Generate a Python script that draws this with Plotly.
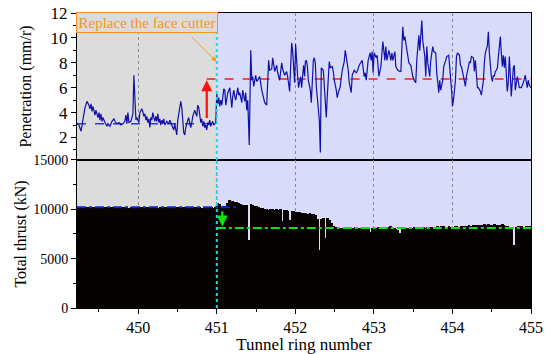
import plotly.graph_objects as go
from plotly.subplots import make_subplots

# ---------------- data ----------------
pen_ring = [
 449.220,449.245,449.271,449.296,449.322,449.347,449.372,449.385,449.398,449.411,449.423,449.449,449.461,449.487,
 449.500,449.512,449.525,449.538,449.550,449.576,449.601,449.614,449.639,449.665,449.690,449.703,449.728,449.754,
 449.779,449.804,449.830,449.843,449.855,449.868,449.881,449.906,449.932,449.944,449.957,449.970,449.982,
 450.008,450.020,450.046,450.058,450.071,450.084,450.097,450.109,450.122,450.135,450.147,450.160,450.173,450.185,
 450.198,450.211,450.224,450.236,450.249,450.262,450.274,450.287,450.300,450.312,450.325,450.338,450.363,450.389,
 450.401,450.427,450.452,450.465,450.478,450.490,450.503,450.516,450.541,450.554,450.567,450.579,450.592,450.605,
 450.630,450.643,450.656,450.668,450.681,450.694,450.719,450.732,450.745,450.757,450.770,450.783,450.796,450.808,
 450.821,450.834,450.846,450.859,450.872,450.885,450.897,450.910,450.923,450.935,450.948,450.961,450.986,
 451.000,451.013,451.025,451.038,451.051,451.064,451.089,451.102,451.114,451.127,451.140,451.165,451.178,451.191,
 451.203,451.216,451.229,451.241,451.267,451.279,451.292,451.318,451.330,451.356,451.368,451.381,451.394,451.413,
 451.432,451.445,451.457,451.470,451.495,451.508,451.521,451.546,451.572,451.584,451.610,451.635,451.648,451.660,
 451.673,451.699,451.711,451.737,451.762,451.775,451.800,451.826,451.838,451.864,451.889,451.902,451.927,451.953,
 451.965,451.991,452.003,452.016,452.029,452.041,452.067,452.080,452.105,452.118,
 452.127,452.140,452.152,452.165,452.191,452.203,452.229,452.241,452.254,452.267,452.292,452.305,452.318,452.330,
 452.356,452.368,452.394,452.406,452.419,452.432,452.445,452.470,452.483,452.495,452.521,452.533,452.546,452.572,
 452.584,452.597,452.622,452.635,452.648,452.673,452.686,452.711,452.724,452.749,452.775,452.787,452.813,452.838,
 452.851,452.876,452.889,452.902,452.914,452.927,452.952,452.965,452.978,452.990,453.003,453.029,453.041,453.054,
 453.064,453.089,453.114,453.140,453.152,453.165,453.178,453.191,453.216,453.229,453.241,453.267,453.279,453.305,
 453.330,453.343,453.368,453.381,453.394,453.419,453.432,453.445,453.470,453.483,453.495,453.521,453.533,453.546,
 453.572,453.584,453.597,453.610,453.622,453.648,453.660,453.673,453.686,453.711,453.724,453.749,453.762,453.787,
 453.800,453.826,453.838,453.851,453.876,453.889,453.914,453.927,453.953,453.978,453.991,
 454.000,454.013,454.038,454.051,454.064,454.089,454.102,454.114,454.140,454.165,454.178,454.191,454.216,454.229,
 454.241,454.267,454.279,454.292,454.318,454.330,454.356,454.368,454.394,454.406,454.419,454.445,454.457,454.470,
 454.483,454.495,454.508,454.521,454.533,454.546,454.559,454.572,454.597,454.610,454.622,454.635,454.648,454.660,
 454.673,454.698,454.711,454.724,454.737,454.749,454.775,454.787,454.800,454.826,454.838,454.851,454.876,454.889,
 454.902,454.927,454.940,454.952,454.965,454.978,455.000]

penetration = [
 3.1,3.0,2.5,3.6,4.4,4.9,4.6,4.3,4.7,4.1,4.5,3.8,4.2,3.6,
 4.0,3.4,3.9,3.3,3.6,3.2,2.9,3.1,2.9,3.3,3.5,3.3,3.1,3.2,
 3.0,3.1,3.3,3.8,3.1,4.0,3.2,3.3,3.9,7.0,4.8,3.4,3.6,
 3.2,4.0,4.3,4.1,3.7,3.9,3.4,3.7,3.2,3.5,2.8,3.6,3.4,4.0,
 3.6,3.3,3.7,3.3,3.9,3.2,3.5,3.0,3.4,3.1,3.5,3.0,3.3,3.1,
 3.4,3.0,2.6,3.1,2.4,2.2,3.4,4.0,4.9,4.4,3.3,2.4,2.2,2.8,
 3.4,3.6,3.1,2.8,3.2,3.7,4.2,4.0,3.7,4.6,4.4,3.8,3.2,3.5,
 2.9,3.3,2.8,3.0,2.6,3.2,3.0,3.4,2.9,3.1,3.3,3.0,3.2,
 5.5,4.7,5.2,4.5,5.0,4.6,5.9,5.8,4.6,5.0,5.6,6.0,5.1,4.4,
 5.3,5.8,5.3,5.0,6.0,5.4,5.6,4.8,5.8,4.9,5.6,4.2,5.0,1.4,
 9.0,6.6,6.9,6.1,7.0,6.5,6.6,6.9,5.8,5.4,4.8,4.6,6.5,8.2,
 7.4,7.5,8.4,7.3,7.8,7.2,6.6,8.0,7.5,7.0,7.3,6.9,5.7,9.6,
 9.0,6.4,9.5,7.7,6.9,6.0,6.9,6.0,7.8,6.9,
 8.1,8.2,7.8,6.6,5.8,4.8,8.2,8.4,8.0,6.1,4.2,3.4,0.8,7.6,
 7.4,6.1,3.6,5.3,6.9,8.1,7.6,7.7,7.3,6.6,5.8,5.2,5.6,6.1,
 6.8,7.4,8.1,9.0,8.5,7.4,6.4,5.6,7.0,7.4,7.2,7.3,7.8,8.0,
 8.2,6.9,7.2,6.6,7.6,8.2,8.8,8.2,8.9,7.2,8.8,8.4,8.6,7.3,
 6.9,7.7,9.7,8.2,9.3,8.2,8.8,9.0,8.2,8.8,8.2,8.9,7.7,7.4,
 7.3,7.3,10.9,9.8,10.1,9.0,8.8,8.0,7.8,7.3,6.9,6.5,6.4,8.2,
 10.2,9.0,10.5,11.4,9.8,8.5,6.9,9.3,8.0,6.9,8.2,9.3,8.9,8.8,
 7.2,5.6,6.6,5.8,6.6,7.7,8.2,8.5,8.6,6.9,5.6,
 4.5,5.0,6.6,8.5,8.8,8.6,7.8,7.7,6.9,6.1,6.9,7.4,8.1,8.0,
 8.5,8.4,7.3,8.2,6.0,6.0,5.7,5.4,6.6,8.0,8.8,9.4,10.5,8.8,
 7.4,6.9,6.5,7.0,6.9,7.3,7.4,7.6,9.3,10.1,8.8,7.7,8.6,7.6,
 8.5,5.7,6.4,8.5,7.0,5.3,7.6,7.8,5.8,6.9,6.5,6.0,6.0,6.2,
 6.4,7.0,6.6,6.0,6.6,6.2,6.0]

# total thrust, one bar per 0.025 ring starting at ring 449.2375
thrust_start = 449.2375
thrust_step = 0.025
thrust = [
 10200,10180,10210,10190,10220,10200,10170,10210,10230,10190,10200,10220,10180,10200,10210,10190,10230,10200,
 10180,10210,10200,10220,10190,10200,10240,10210,10180,10200,10220,10200,10190,10210,10230,10200,10180,10210,
 10200,10190,10220,10200,10210,10180,10200,10230,10210,10190,10200,10220,10200,10180,10210,10200,10190,10230,
 10200,10210,10180,10200,10220,10190,10200,10210,10200,10180,10220,10200,10190,10210,10200,10180,10200,
 10650,10500,10250,10300,10350,10600,10900,10850,10800,10750,10700,10650,10500,10450,10450,10400,
 6900,10500,10450,10350,10300,10200,10150,10100,10050,10000,9950,10050,10000,9980,10000,9950,10000,8800,
 9900,9950,9850,8900,9850,9800,
 9750,9700,9750,9650,9600,9650,9550,9600,9500,9550,9450,9000,5900,9000,9150,7100,9100,8900,8600,8350,8200,
 8150,8100,8120,8080,8150,8100,8130,8160,8100,8180,8120,8150,8100,8140,8200,8120,8100,7700,8120,8150,
 8100,8180,8130,8250,8150,8100,8200,8280,8150,8100,8050,7950,7600,8000,8050,8080,8120,8150,8100,8180,
 8130,8200,8150,8100,8220,8150,8180,8250,8200,8150,8220,8300,8250,8350,8300,8250,8200,8300,8250,8200,
 8300,8280,8250,8320,8300,8350,8300,8400,8350,8380,8450,8400,8420,8380,8450,8500,8420,8480,8400,8450,
 8500,8420,8380,8450,8480,8400,8350,8300,8200,8100,6400,8250,8300,8350,8300,8250,8300,8350,8300]
thrust_ring = [thrust_start + thrust_step * i for i in range(len(thrust))]

x_range = [449.22, 455.0]
change_ring = 451.0
pen_mean_before = 3.1
pen_mean_after = 6.7
thrust_mean_before = 10200
thrust_mean_after = 8100
x_ticks = [450, 451, 452, 453, 454, 455]
pen_ticks = [2, 4, 6, 8, 10, 12]
thrust_ticks = [0, 5000, 10000, 15000]

SERIF = "Times New Roman, Liberation Serif, DejaVu Serif, serif"
GRAY_BG = "#dcdcdc"
BLUE_BG = "#d8dcfa"
ORANGE = "#f7941d"

fig = make_subplots(rows=2, cols=1, shared_xaxes=True, vertical_spacing=0,
                    row_heights=[0.498, 0.502])

# background regions
for r, yd in [(1, "y domain"), (2, "y2 domain")]:
    xr = "x" if r == 1 else "x2"
    fig.add_shape(type="rect", xref=xr, yref=yd, x0=x_range[0], x1=change_ring, y0=0, y1=1,
                  fillcolor=GRAY_BG, line_width=0, layer="below")
    fig.add_shape(type="rect", xref=xr, yref=yd, x0=change_ring, x1=x_range[1], y0=0, y1=1,
                  fillcolor=BLUE_BG, line_width=0, layer="below")

# thrust bars
fig.add_trace(go.Bar(x=thrust_ring, y=thrust, width=thrust_step, marker_color="#050200",
                     marker_line_width=0, showlegend=False), row=2, col=1)

# mean lines
fig.add_trace(go.Scatter(x=[x_range[0], change_ring], y=[pen_mean_before]*2, mode="lines",
                         line=dict(color="#1f3fe0", width=1.6, dash="dash"), showlegend=False), row=1, col=1)
fig.add_trace(go.Scatter(x=[450.87, x_range[1]], y=[pen_mean_after]*2, mode="lines",
                         line=dict(color="#ff1a1a", width=1.6, dash="dash"), showlegend=False), row=1, col=1)

# penetration line
fig.add_trace(go.Scatter(x=pen_ring, y=penetration, mode="lines",
                         line=dict(color="#1010a8", width=1.2), showlegend=False), row=1, col=1)

fig.add_trace(go.Scatter(x=[x_range[0], 451.25], y=[thrust_mean_before]*2, mode="lines",
                         line=dict(color="#1020e0", width=2, dash="dashdot"), showlegend=False), row=2, col=1)
fig.add_trace(go.Scatter(x=[change_ring, x_range[1]], y=[thrust_mean_after]*2, mode="lines",
                         line=dict(color="#10e010", width=2, dash="dashdot"), showlegend=False), row=2, col=1)

# cyan change line
for xr, yd in [("x", "y domain"), ("x2", "y2 domain")]:
    fig.add_shape(type="line", xref=xr, yref=yd, x0=change_ring, x1=change_ring, y0=0, y1=1,
                  line=dict(color="#00e5f0", width=2, dash="dot"))

# annotations
fig.add_annotation(x=450.11, y=11.25, xref="x", yref="y", text="Replace the face cutter",
                   showarrow=False, font=dict(family=SERIF, size=15, color=ORANGE),
                   bordercolor=ORANGE, borderwidth=1, borderpad=1.5, bgcolor=GRAY_BG)
fig.add_annotation(x=450.995, y=8.1, ax=450.66, ay=10.2, xref="x", yref="y", axref="x", ayref="y",
                   text="", showarrow=True, arrowhead=2, arrowsize=1, arrowwidth=1, arrowcolor=ORANGE)
fig.add_annotation(x=450.872, y=6.6, ax=450.872, ay=3.45, xref="x", yref="y", axref="x", ayref="y",
                   text="", showarrow=True, arrowhead=2, arrowsize=1, arrowwidth=2.2, arrowcolor="#ff1010")
fig.add_annotation(x=451.07, y=8250, ax=451.07, ay=9950, xref="x2", yref="y2", axref="x2", ayref="y2",
                   text="", showarrow=True, arrowhead=2, arrowsize=1, arrowwidth=2.2, arrowcolor="#10e010")

axis_common = dict(showline=True, linecolor="black", linewidth=1, mirror=True, automargin=False)

fig.update_xaxes(range=x_range, tickvals=x_ticks, showgrid=True, gridcolor="#8a8a8a",
                 griddash="dot", gridwidth=1, zeroline=False, **axis_common)
fig.update_xaxes(showticklabels=False, ticks="", row=1, col=1)
fig.update_xaxes(ticks="outside", ticklen=5, tickcolor="black",
                 minor=dict(dtick=0.5, ticks="outside", ticklen=3, tickcolor="black", showgrid=False),
                 tickfont=dict(family=SERIF, size=16, color="black"),
                 title=dict(text="Tunnel ring number", font=dict(family=SERIF, size=17, color="black"),
                            standoff=0), row=2, col=1)

fig.update_yaxes(range=[0.2, 12], tickvals=pen_ticks, ticks="outside", ticklen=5, tickcolor="black",
                 minor=dict(dtick=1, ticks="outside", ticklen=3, tickcolor="black"),
                 showgrid=False, zeroline=False,
                 tickfont=dict(family=SERIF, size=17, color="black"),
                 title=dict(text="Penetration (mm/r)", font=dict(family=SERIF, size=16, color="black"),
                            standoff=14), row=1, col=1, **axis_common)
fig.update_yaxes(range=[0, 15000], tickvals=thrust_ticks, tickformat="d", ticks="outside", ticklen=5,
                 tickcolor="black",
                 minor=dict(dtick=2500, ticks="outside", ticklen=3, tickcolor="black"),
                 showgrid=False, zeroline=False,
                 tickfont=dict(family=SERIF, size=14, color="black"),
                 title=dict(text="Total thrust (kN)", font=dict(family=SERIF, size=16, color="black"),
                            standoff=2), row=2, col=1, **axis_common)

fig.update_layout(width=549, height=354, margin=dict(l=77, r=18, t=13, b=46),
                  font=dict(family=SERIF, color="black"),
                  paper_bgcolor="white", plot_bgcolor="white", bargap=0, showlegend=False)

fig.write_html("out.html")
